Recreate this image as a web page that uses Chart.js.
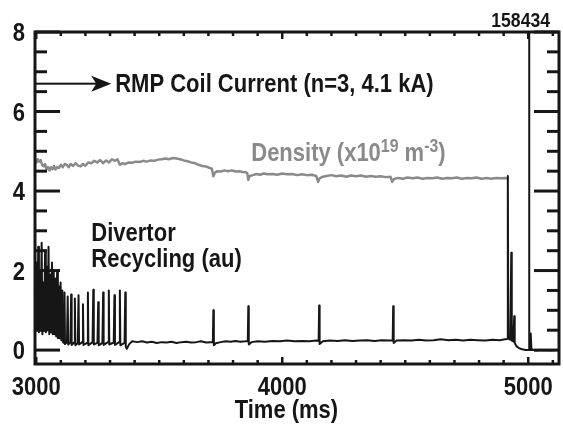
<!DOCTYPE html>
<html>
<head>
<meta charset="utf-8">
<script src="https://cdn.jsdelivr.net/npm/chart.js@4.4.0/dist/chart.umd.min.js"></script>
<style>
  html, body { margin: 0; padding: 0; background: #fff; }
  #wrap { position: relative; width: 563px; height: 428px; }
  #wrap canvas { position: absolute; left: 0; top: 0; }
  #frame { position: absolute; left: 0; top: 0; pointer-events: none; }
</style>
</head>
<body>
<div id="wrap">
  <canvas id="shotChart" width="563" height="428"></canvas>
  <svg id="frame" width="563" height="428" xmlns="http://www.w3.org/2000/svg"></svg>
</div>
<script>
// Axis ticks
const xTicks = [3000, 4000, 5000];
const yTicks = [0, 2, 4, 6, 8];
const xMinorTicks = [];
for (let t = 3000; t <= 5100; t += 100) xMinorTicks.push(t);
const yMinorTicks = [];
for (let i = 0; i <= 16; i++) yMinorTicks.push(i * 0.5);

// Density (x10^19 m^-3), grey trace
const densityTime = [
  3000, 3006, 3012, 3018, 3024, 3030, 3036, 3042, 3048, 3054,
  3060, 3066, 3072, 3078, 3084, 3092, 3100, 3108, 3116, 3124,
  3132, 3140, 3150, 3160, 3170, 3180, 3190, 3200, 3212, 3224,
  3236, 3248, 3260, 3272, 3284, 3296, 3308, 3320, 3330, 3340,
  3350, 3362, 3376, 3390, 3405, 3420, 3435, 3450, 3465, 3480,
  3495, 3510, 3525, 3540, 3555, 3570, 3585, 3600, 3615, 3630,
  3645, 3660, 3675, 3690, 3705, 3714, 3720, 3726, 3736, 3750,
  3765, 3780, 3795, 3810, 3825, 3840, 3852, 3858, 3862, 3868,
  3880, 3895, 3910, 3925, 3940, 3960, 3980, 4000, 4020, 4040,
  4060, 4080, 4100, 4120, 4138, 4146, 4152, 4165, 4180, 4200,
  4220, 4240, 4260, 4280, 4300, 4320, 4340, 4360, 4380, 4400,
  4420, 4440, 4447, 4454, 4470, 4490, 4510, 4530, 4550, 4570,
  4590, 4610, 4630, 4650, 4670, 4690, 4710, 4730, 4750, 4770,
  4790, 4810, 4830, 4850, 4870, 4890, 4905, 4917
];
const densityValue = [
  4.70, 4.80, 4.74, 4.78, 4.66, 4.62, 4.68, 4.55, 4.60, 4.52,
  4.60, 4.55, 4.63, 4.54, 4.60, 4.58, 4.66, 4.60, 4.68, 4.66,
  4.60, 4.68, 4.63, 4.70, 4.64, 4.62, 4.68, 4.64, 4.72, 4.70,
  4.76, 4.72, 4.78, 4.70, 4.77, 4.72, 4.80, 4.76, 4.80, 4.66,
  4.70, 4.68, 4.72, 4.71, 4.74, 4.73, 4.76, 4.74, 4.77, 4.76,
  4.79, 4.80, 4.82, 4.80, 4.83, 4.82, 4.80, 4.77, 4.75, 4.72,
  4.70, 4.66, 4.63, 4.62, 4.58, 4.56, 4.37, 4.46, 4.50, 4.49,
  4.52, 4.50, 4.52, 4.49, 4.50, 4.48, 4.47, 4.45, 4.28, 4.38,
  4.40, 4.43, 4.41, 4.44, 4.42, 4.43, 4.41, 4.44, 4.42, 4.43,
  4.40, 4.42, 4.40, 4.41, 4.38, 4.23, 4.32, 4.36, 4.38, 4.40,
  4.37, 4.39, 4.36, 4.39, 4.37, 4.39, 4.36, 4.38, 4.36, 4.37,
  4.35, 4.36, 4.23, 4.30, 4.33, 4.31, 4.34, 4.32, 4.34, 4.31,
  4.33, 4.32, 4.34, 4.31, 4.33, 4.32, 4.34, 4.31, 4.33, 4.32,
  4.34, 4.31, 4.33, 4.31, 4.33, 4.32, 4.33, 4.32
];

// Divertor recycling (au), black trace
const divertorTime = [
  2995, 3000, 3002, 3005, 3008, 3011, 3015, 3018, 3022, 3025,
  3029, 3032, 3036, 3039, 3043, 3046, 3050, 3053, 3057, 3060,
  3064, 3067, 3071, 3074, 3078, 3081, 3085, 3088, 3092, 3095,
  3099, 3102, 3106, 3109, 3113, 3115, 3117, 3125, 3128, 3130,
  3139, 3142, 3144, 3154, 3157, 3159, 3169, 3172, 3174, 3187,
  3190, 3192, 3207, 3210, 3212, 3229, 3232, 3234, 3249, 3252,
  3254, 3269, 3272, 3274, 3292, 3295, 3297, 3315, 3318, 3320,
  3337, 3340, 3342, 3359, 3362, 3364, 3368, 3378, 3390, 3410,
  3430, 3450, 3470, 3490, 3510, 3530, 3550, 3570, 3590, 3610,
  3630, 3650, 3670, 3690, 3710, 3718, 3720, 3722, 3730, 3750,
  3770, 3790, 3810, 3830, 3850, 3860, 3862, 3864, 3875, 3900,
  3930, 3960, 3990, 4020, 4050, 4080, 4110, 4140, 4148, 4150,
  4152, 4165, 4195, 4225, 4255, 4285, 4315, 4345, 4375, 4405,
  4435, 4449, 4451, 4453, 4465, 4495, 4525, 4555, 4585, 4615,
  4645, 4675, 4705, 4735, 4765, 4795, 4825, 4855, 4885, 4905,
  4915, 4917, 4919, 4927, 4931, 4933, 4939, 4943, 4945, 4952,
  4962, 4975, 4990, 5007, 5010, 5013, 5030, 5060, 5090, 5125
];
const divertorValue = [
  0.50, 0.60, 2.20, 0.50, 2.60, 0.45, 2.00, 0.50, 2.70, 0.40,
  1.70, 0.50, 2.50, 0.45, 2.10, 0.50, 2.60, 0.40, 1.90, 0.45,
  2.20, 0.40, 2.00, 0.40, 1.80, 0.35, 2.00, 0.30, 1.60, 0.30,
  1.70, 0.25, 1.50, 0.20, 0.18, 1.45, 0.15, 0.20, 1.35, 0.14,
  0.20, 1.40, 0.13, 0.19, 1.30, 0.12, 0.18, 1.38, 0.14, 0.20,
  1.15, 0.13, 0.18, 1.45, 0.12, 0.20, 1.52, 0.14, 0.19, 1.20,
  0.12, 0.18, 1.45, 0.13, 0.20, 1.50, 0.14, 0.19, 1.38, 0.13,
  0.20, 1.50, 0.12, 0.18, 1.45, 0.08, 0.03, 0.15, 0.22, 0.20,
  0.22, 0.19, 0.21, 0.18, 0.20, 0.19, 0.21, 0.18, 0.20, 0.21,
  0.19, 0.20, 0.22, 0.19, 0.20, 0.20, 1.00, 0.12, 0.17, 0.20,
  0.22, 0.21, 0.23, 0.21, 0.22, 0.23, 1.10, 0.14, 0.20, 0.22,
  0.21, 0.23, 0.22, 0.24, 0.22, 0.23, 0.22, 0.24, 0.23, 1.12,
  0.15, 0.22, 0.24, 0.23, 0.25, 0.23, 0.24, 0.25, 0.23, 0.25,
  0.24, 0.25, 1.10, 0.18, 0.24, 0.25, 0.24, 0.26, 0.24, 0.25,
  0.27, 0.25, 0.26, 0.24, 0.26, 0.25, 0.24, 0.26, 0.25, 0.27,
  0.28, 4.38, 0.30, 0.26, 2.45, 0.24, 0.22, 0.85, 0.18, 0.10,
  0.05, 0.02, 0.00, 0.01, 0.42, 0.02, -0.01, 0.00, -0.01, 0.00
];

// RMP coil current: off scale until the coils switch off
const coilTime = [2995, 5004, 5004, 5125];
const coilValue = [9, 9, 0, 0];

const INK = '#161616';
const GREY = '#8a8a8a';
const SQUEEZE = 0.88;
const FONT = '"Liberation Sans", Arial, sans-serif';

function toPoints(xs, ys) {
    return xs.map((t, i) => ({ x: t, y: ys[i] }));
}

// condensed bold text (the original uses a narrow Helvetica)
function squeezed(ctx, text, x, y, size, color, align) {
    ctx.save();
    ctx.font = `bold ${size}px ${FONT}`;
    ctx.fillStyle = color;
    ctx.textBaseline = 'alphabetic';
    ctx.textAlign = align || 'left';
    ctx.translate(x, y);
    ctx.scale(SQUEEZE, 1);
    ctx.fillText(text, 0, 0);
    ctx.restore();
}

// frame with inward ticks, as an svg layer over the canvas, placed from the chart scales
function buildFrame(chart) {
    const a = chart.chartArea, xs = chart.scales.x, ys = chart.scales.y;
    const out = [];
    const line = (x1, y1, x2, y2, w) =>
        out.push(`<line x1="${x1}" y1="${y1}" x2="${x2}" y2="${y2}" stroke="${INK}" stroke-width="${w}"/>`);
    yMinorTicks.forEach(v => {
        const py = ys.getPixelForValue(v);
        const len = yTicks.includes(v) ? 25 : 12;
        line(a.left, py, a.left + len, py, 3);
        line(a.right, py, a.right - len, py, 3);
    });
    xMinorTicks.forEach(v => {
        const px = xs.getPixelForValue(v);
        const len = xTicks.includes(v) ? 7 : 4;
        line(px, a.bottom, px, a.bottom - len, 2.5);
        line(px, a.top, px, a.top + len, 2.5);
    });
    out.push(`<rect x="${a.left}" y="${a.top}" width="${a.right - a.left}" height="${a.bottom - a.top}" fill="none" stroke="${INK}" stroke-width="3"/>`);
    document.getElementById('frame').innerHTML = out.join('');
}

// tick labels, annotation arrow, labels, shot number and axis title
const overlay = {
    id: 'overlay',
    afterDraw(chart) {
        const c = chart.ctx, a = chart.chartArea;
        const xs = chart.scales.x, ys = chart.scales.y;

        yTicks.forEach(v => {
            squeezed(c, String(v), a.left - 10, ys.getPixelForValue(v) + 9, 25, INK, 'right');
        });
        xTicks.forEach(v => {
            squeezed(c, String(v), xs.getPixelForValue(v), a.bottom + 31, 25, INK, 'center');
        });

        const ay = ys.getPixelForValue(6.7);
        const ax1 = xs.getPixelForValue(3305);
        c.save();
        c.fillStyle = INK;
        c.fillRect(a.left, ay - 1, ax1 - 14 - a.left, 2);
        c.beginPath();
        c.moveTo(ax1, ay);
        c.lineTo(ax1 - 20, ay - 8);
        c.lineTo(ax1 - 15, ay);
        c.lineTo(ax1 - 20, ay + 8);
        c.closePath();
        c.fill();
        c.restore();

        squeezed(c, 'RMP Coil Current (n=3, 4.1 kA)', xs.getPixelForValue(3321), ys.getPixelForValue(6.5), 25, INK);
        squeezed(c, 'Divertor', xs.getPixelForValue(3224), ys.getPixelForValue(2.74), 25, INK);
        squeezed(c, 'Recycling (au)', xs.getPixelForValue(3224), ys.getPixelForValue(2.1), 25, INK);

        // Density (x10^19 m^-3) with superscripts
        const parts = [['Density (x10', 25, 0], ['19', 18, 9], [' m', 25, 0], ['-3', 18, 9], [')', 25, 0]];
        let dx = xs.getPixelForValue(3874);
        const dy = ys.getPixelForValue(4.75);
        parts.forEach(([txt, size, rise]) => {
            c.font = `bold ${size}px ${FONT}`;
            const w = c.measureText(txt).width * SQUEEZE;
            squeezed(c, txt, dx, dy - rise, size, GREY);
            dx += w;
        });

        squeezed(c, '158434', a.right - 9, a.top - 5, 20, INK, 'right');
        squeezed(c, 'Time (ms)', xs.getPixelForValue(4017), a.bottom + 54, 25, INK, 'center');

        buildFrame(chart);
    }
};

const shotChart = new Chart(document.getElementById('shotChart'), {
    type: 'line',
    data: {
        datasets: [
            {
                label: 'Divertor Recycling (au)',
                data: toPoints(divertorTime, divertorValue),
                borderColor: INK,
                borderWidth: 2,
                clip: 0
            },
            {
                label: 'RMP Coil Current',
                data: toPoints(coilTime, coilValue),
                borderColor: INK,
                borderWidth: 2,
                clip: 0
            },
            {
                label: 'Density',
                data: toPoints(densityTime, densityValue),
                borderColor: GREY,
                borderWidth: 2.5,
                clip: 0
            }
        ]
    },
    options: {
        responsive: false,
        animation: false,
        elements: {
            point: { radius: 0 },
            line: { tension: 0, borderJoinStyle: 'round', fill: false }
        },
        layout: { padding: { top: 32, right: 4, left: 0, bottom: 0 } },
        plugins: {
            legend: { display: false },
            tooltip: { enabled: false }
        },
        scales: {
            x: {
                type: 'linear',
                min: 2995,
                max: 5125,
                grid: { display: false, drawTicks: false },
                border: { display: false },
                afterFit: s => { s.height = 64; },
                afterBuildTicks: s => { s.ticks = xTicks.map(v => ({ value: v })); },
                ticks: { display: false }
            },
            y: {
                min: -0.35,
                max: 8,
                grid: { display: false, drawTicks: false },
                border: { display: false },
                afterFit: s => { s.width = 35; },
                afterBuildTicks: s => { s.ticks = yTicks.map(v => ({ value: v })); },
                ticks: { display: false }
            }
        }
    },
    plugins: [overlay]
});
</script>
</body>
</html>
